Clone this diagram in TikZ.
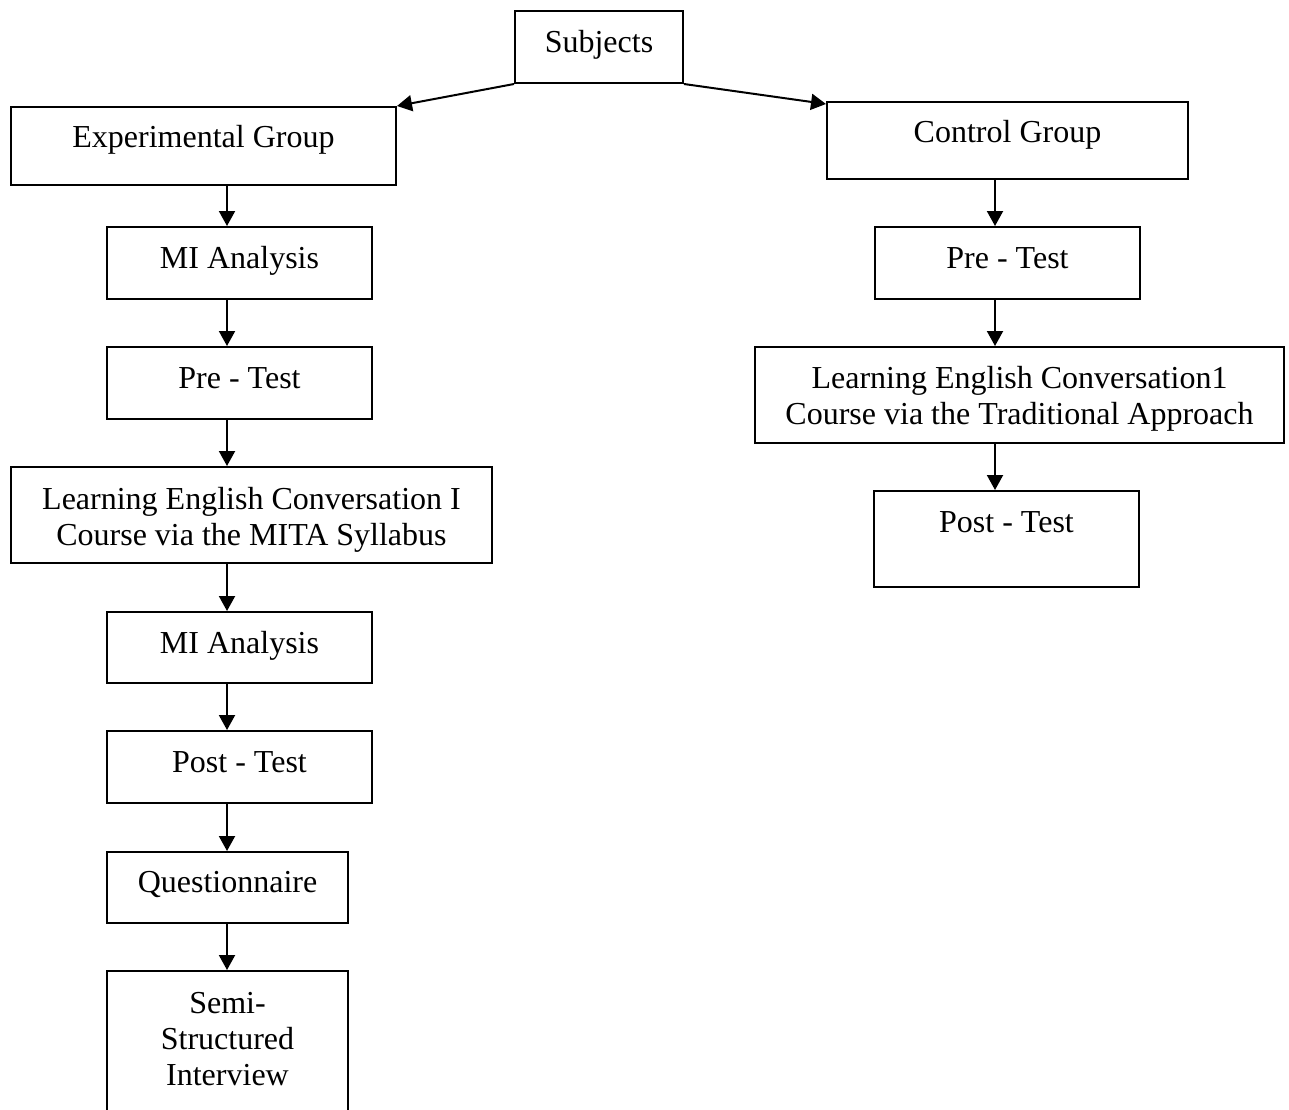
\documentclass[tikz,border=0pt]{standalone}
\usepackage{fontspec}
\setmainfont{Liberation Serif}
\usetikzlibrary{arrows.meta,fit,calc}
\begin{document}
\begin{tikzpicture}[x=0.5pt,y=-0.5pt,
  box/.style={draw, line width=1pt, inner sep=0pt},
  lbl/.style={anchor=base, inner sep=0pt, font=\fontsize{16pt}{18pt}\selectfont, align=center},
  arr/.style={line width=1pt, -{Triangle[length=7.5pt,width=8pt]}}]
\useasboundingbox (0,0) rectangle (1289,1109);
\clip (0,0) rectangle (1289,1109);

% columns of the two flows
\coordinate (lx) at (227,0);
\coordinate (rx) at (995,0);

% top (label positions are baselines of the last line)
\node[box, fit={(515,11) (683,83)}] (subj) {};
\node[lbl] (subjt) at (599,52) {Subjects};

% experimental group
\node[box, fit={(11,107) (396,185)}] (exp) {};
\node[lbl] (expt) at (203.5,147) {Experimental Group};
\node[box, fit={(107,227) (372,299)}] (mia) {};
\node[lbl] (miat) at (239.5,268) {MI Analysis};
\node[box, fit={(107,347) (372,419)}] (prea) {};
\node[lbl] (preat) at (239.5,388) {Pre - Test};
\node[box, fit={(11,467) (492,563)}] (learna) {};
\node[lbl] (learnat) at (251.5,545) {Learning English Conversation I\\Course via the MITA Syllabus};
\node[box, fit={(107,612) (372,683)}] (mib) {};
\node[lbl] (mibt) at (239.5,653) {MI Analysis};
\node[box, fit={(107,731) (372,803)}] (posta) {};
\node[lbl] (postat) at (239.5,772) {Post - Test};
\node[box, fit={(107,852) (348,923)}] (quest) {};
\node[lbl] (questt) at (227.5,892) {Questionnaire};
\node[box, fit={(107,971) (348,1130)}] (semi) {};
\node[lbl] (semit) at (227.5,1085) {Semi-\\Structured\\Interview};

% control group
\node[box, fit={(827,102) (1188,179)}] (ctrl) {};
\node[lbl] (ctrlt) at (1007.5,142) {Control Group};
\node[box, fit={(875,227) (1140,299)}] (preb) {};
\node[lbl] (prebt) at (1007.5,268) {Pre - Test};
\node[box, fit={(755,347) (1284,443)}] (learnb) {};
\node[lbl] (learnbt) at (1019.5,424) {Learning English Conversation1\\Course via the Traditional Approach};
\node[box, fit={(874,491) (1139,587)}] (postb) {};
\node[lbl] (postbt) at (1006.5,532) {Post - Test};

% connectors
\draw[arr] (subj.south west) -- (exp.north east);
\draw[arr] (subj.south east) -- ($(ctrl.north west)+(0,3)$);

\foreach \a/\b in {exp/mia, mia/prea, prea/learna, learna/mib, mib/posta, posta/quest, quest/semi}
  \draw[arr] (\a.south -| lx) -- (\b.north -| lx);
\foreach \a/\b in {ctrl/preb, preb/learnb, learnb/postb}
  \draw[arr] (\a.south -| rx) -- (\b.north -| rx);
\end{tikzpicture}
\end{document}
